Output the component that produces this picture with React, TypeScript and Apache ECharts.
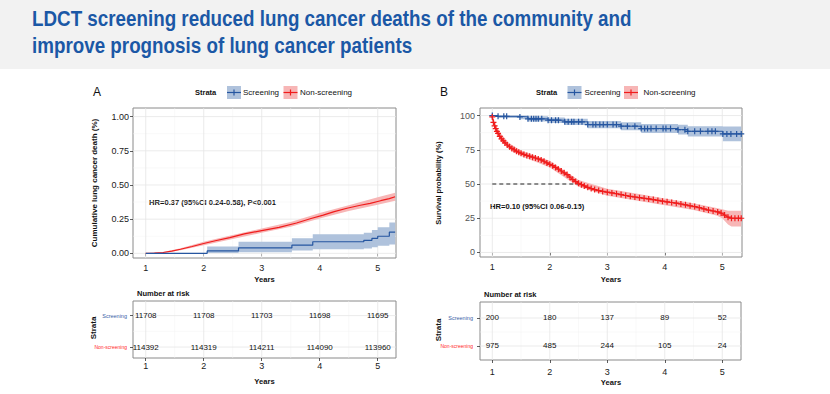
import React, { useEffect, useRef } from "react";
import * as echarts from "echarts";

// ---------- data ----------
const years = [1, 2, 3, 4, 5];
const strata = ["Screening", "Non-screening"];

// Panel A: cumulative lung cancer death (fraction)
const A_screening: [number, number][] = [
  [1.0, 0], [2.06, 0.018], [2.6, 0.04], [3.52, 0.06], [3.88, 0.085],
  [4.76, 0.095], [4.9, 0.11], [5.0, 0.125], [5.2, 0.155], [5.3, 0.155],
];
const A_screeningCI: [number, number, number][] = [
  [1.0, 0, 0], [2.06, 0.002, 0.05], [2.6, 0.008, 0.085], [3.52, 0.02, 0.11],
  [3.88, 0.03, 0.14], [4.76, 0.035, 0.15], [4.9, 0.045, 0.17], [5.0, 0.055, 0.19],
  [5.2, 0.065, 0.225], [5.3, 0.065, 0.225],
];
const A_nonScreening: [number, number][] = [
  [1.0, 0], [1.15, 0.001], [1.3, 0.006], [1.45, 0.016], [1.6, 0.03], [1.8, 0.05],
  [2.0, 0.072], [2.2, 0.092], [2.45, 0.115], [2.7, 0.142], [3.0, 0.166], [3.3, 0.19],
  [3.6, 0.222], [3.85, 0.255], [4.06, 0.28], [4.25, 0.305], [4.47, 0.33], [4.7, 0.352],
  [4.87, 0.366], [5.05, 0.385], [5.2, 0.4], [5.3, 0.414],
];
const A_nonScreeningCI: [number, number, number][] = [
  [1.0, 0, 0], [1.3, 0.002, 0.01], [1.6, 0.022, 0.038], [2.0, 0.06, 0.084],
  [2.5, 0.105, 0.135], [3.0, 0.15, 0.182], [3.5, 0.195, 0.23], [4.0, 0.255, 0.295],
  [4.5, 0.31, 0.352], [5.0, 0.355, 0.41], [5.3, 0.385, 0.443],
];
const A_yTicks = [0, 0.25, 0.5, 0.75, 1];
const A_yMinor = [0.125, 0.375, 0.625, 0.875];
const A_riskScreening = [11708, 11708, 11703, 11698, 11695];
const A_riskNonScreening = [114392, 114319, 114211, 114090, 113960];
const A_hr = "HR=0.37 (95%CI 0.24-0.58), P<0.001";

// Panel B: survival probability (%)
const B_screening: [number, number][] = [
  [1.0, 100], [1.1, 99.4], [1.2, 99.4], [1.25, 99.4], [1.48, 99.0], [1.62, 97.6],
  [1.68, 97.6], [1.72, 97.6], [1.76, 97.6], [1.8, 97.6], [1.86, 97.6], [1.97, 96.6],
  [2.03, 96.6], [2.1, 96.6], [2.15, 96.6], [2.26, 95.4], [2.32, 95.4], [2.38, 95.4],
  [2.42, 95.4], [2.5, 95.4], [2.56, 95.4], [2.66, 93.4], [2.75, 93.4], [2.8, 93.4],
  [2.87, 93.4], [2.93, 93.4], [3.0, 93.4], [3.1, 93.4], [3.16, 93.4], [3.24, 92.2],
  [3.35, 92.2], [3.48, 92.2], [3.59, 90.5], [3.65, 90.5], [3.7, 90.5], [3.76, 90.5],
  [3.85, 90.5], [3.97, 90.5], [4.02, 90.5], [4.1, 90.5], [4.23, 89.7], [4.35, 89.7],
  [4.4, 88.5], [4.52, 88.5], [4.62, 88.5], [4.75, 88.5], [4.82, 88.5], [4.88, 88.5],
  [5.01, 86.6], [5.08, 86.6], [5.15, 86.6], [5.25, 86.6], [5.33, 86.6],
];
const B_screeningCI: [number, number, number][] = [
  [1.0, 100, 100], [1.1, 98.2, 100], [1.48, 97.3, 100], [1.62, 95.7, 99.4],
  [1.97, 94.5, 98.6], [2.26, 93.1, 97.6], [2.66, 90.8, 96.0], [3.24, 89.3, 95.1],
  [3.59, 87.2, 93.8], [4.23, 86.2, 93.2], [4.4, 84.7, 92.2], [5.01, 81.2, 92.0],
  [5.33, 81.2, 92.0],
];
const B_nonScreening: [number, number][] = [
  [1.0, 99], [1.02, 95], [1.04, 92.5], [1.06, 90.5], [1.08, 88.5], [1.1, 87],
  [1.13, 84.8], [1.16, 83], [1.19, 81.5], [1.22, 80], [1.26, 78.5], [1.3, 77.2],
  [1.34, 76], [1.38, 75], [1.42, 74], [1.46, 73.2], [1.5, 72.5], [1.55, 71.6],
  [1.6, 70.9], [1.65, 70.3], [1.7, 69.6], [1.75, 69], [1.8, 68.3], [1.85, 67.6],
  [1.9, 66.6], [1.95, 65.4], [2.0, 64.4], [2.05, 63.4], [2.1, 62.1], [2.15, 60.8],
  [2.2, 59.5], [2.25, 58.2], [2.3, 56.9], [2.35, 55.0], [2.4, 53.2], [2.45, 51.8],
  [2.5, 50.5], [2.55, 49.5], [2.6, 48.6], [2.66, 47.6], [2.72, 46.7], [2.78, 45.9],
  [2.85, 45.2], [2.92, 44.6], [3.0, 44.0], [3.08, 43.5], [3.16, 42.9], [3.24, 42.3],
  [3.32, 41.6], [3.4, 41.0], [3.48, 40.5], [3.56, 40.0], [3.64, 39.6], [3.72, 39.1],
  [3.8, 38.6], [3.88, 38.0], [3.96, 37.5], [4.04, 37.0], [4.12, 36.5], [4.2, 36.0],
  [4.28, 35.4], [4.36, 34.8], [4.44, 34.1], [4.52, 33.5], [4.6, 32.7], [4.68, 31.8],
  [4.76, 31.0], [4.84, 30.3], [4.92, 29.6], [4.98, 28.8], [5.04, 27.3], [5.1, 25.8],
  [5.16, 25.0], [5.22, 25.0], [5.28, 25.0], [5.33, 25.0],
];
const B_nonScreeningCI: [number, number, number][] = [
  [1.0, 98, 100], [1.1, 85, 89], [1.3, 75, 79.5], [1.5, 70.5, 74.5], [2.0, 62, 67],
  [2.5, 48, 53], [3.0, 41.5, 46.5], [3.5, 38, 43], [4.0, 34.5, 39.5], [4.5, 31, 36],
  [4.9, 27, 32.5], [5.0, 25, 31.5], [5.1, 20.5, 30.5], [5.16, 19, 30.5], [5.33, 19, 30.5],
];
const B_medianLine: [number, number][] = [[1, 50], [2.52, 50]];
const B_yTicks = [0, 25, 50, 75, 100];
const B_yMinor = [12.5, 37.5, 62.5, 87.5];
const B_riskScreening = [200, 180, 137, 89, 52];
const B_riskNonScreening = [975, 485, 244, 105, 24];
const B_hr = "HR=0.10 (95%CI 0.06-0.15)";

const xMinor = [1.5, 2.5, 3.5, 4.5];
const riskRows = [1, 2]; // 1 = Non-screening, 2 = Screening
const riskRowMinor = [1.5];

// ---------- styles ----------
const FONT = "'Liberation Sans', Arial, Helvetica, sans-serif";
const BLUE = "#2656a0";
const RED = "#f01c1c";
const BLUE_BAND = "#afc2dc";
const RED_BAND = "#f7b6b6";
const GRID_MAJOR = "#e6e6e6";
const GRID_MINOR = "#f2f2f2";
const CROSS = "path://M4,0H6V4H10V6H6V10H4V6H0V4H4Z";

function gridLines(idx: number, xMaj: number[], xMin: number[], yMaj: number[], yMin: number[]) {
  const data: number[][] = [
    ...xMin.map((v) => [v, 1]),
    ...yMin.map((v) => [v, 3]),
    ...xMaj.map((v) => [v, 0]),
    ...yMaj.map((v) => [v, 2]),
  ];
  return {
    type: "custom",
    xAxisIndex: idx,
    yAxisIndex: idx,
    silent: true,
    z: 1,
    data,
    renderItem: (params: any, api: any) => {
      const v = api.value(0);
      const k = api.value(1);
      const cs = params.coordSys;
      const major = k === 0 || k === 2;
      const style = { stroke: major ? GRID_MAJOR : GRID_MINOR, lineWidth: major ? 0.8 : 0.5 };
      if (k < 2) {
        const x = api.coord([v, 0])[0];
        return { type: "line", shape: { x1: x, y1: cs.y, x2: x, y2: cs.y + cs.height }, style };
      }
      const y = api.coord([0, v])[1];
      return { type: "line", shape: { x1: cs.x, y1: y, x2: cs.x + cs.width, y2: y }, style };
    },
  };
}

function band(idx: number, rows: [number, number, number][], step: boolean, color: string) {
  return {
    type: "custom",
    xAxisIndex: idx,
    yAxisIndex: idx,
    silent: true,
    z: 2,
    clip: true,
    data: rows,
    renderItem: (params: any, api: any) => {
      if (params.dataIndex !== 0) return null;
      const up: number[][] = [];
      const lo: number[][] = [];
      rows.forEach((r, i) => {
        if (step && i > 0) {
          up.push(api.coord([r[0], rows[i - 1][2]]));
          lo.push(api.coord([r[0], rows[i - 1][1]]));
        }
        up.push(api.coord([r[0], r[2]]));
        lo.push(api.coord([r[0], r[1]]));
      });
      return { type: "polygon", shape: { points: up.concat(lo.reverse()) }, style: { fill: color } };
    },
  };
}

function curve(idx: number, data: [number, number][], color: string, step: boolean, marks: boolean, width = 1.2) {
  return {
    type: "line",
    xAxisIndex: idx,
    yAxisIndex: idx,
    silent: true,
    z: 3,
    data,
    step: step ? "end" : false,
    showSymbol: marks,
    showAllSymbol: true,
    symbol: CROSS,
    symbolSize: 6,
    itemStyle: { color },
    lineStyle: { color, width },
    emphasis: { disabled: true },
  };
}

function riskNumbers(idx: number, scr: number[], non: number[]) {
  const data = years.flatMap((y, i) => [[y, 2, scr[i]], [y, 1, non[i]]]);
  return {
    type: "custom",
    xAxisIndex: idx,
    yAxisIndex: idx,
    silent: true,
    z: 4,
    data,
    renderItem: (params: any, api: any) => {
      const p = api.coord([api.value(0), api.value(1)]);
      return {
        type: "text",
        x: p[0],
        y: p[1],
        style: {
          text: String(api.value(2)),
          fontSize: 8,
          fontFamily: FONT,
          fill: "#111",
          align: "center",
          verticalAlign: "middle",
          textAlign: "center",
          textVerticalAlign: "middle",
        },
      };
    },
  };
}

function xAxis(idx: number, min: number, max: number, margin: number) {
  return {
    type: "value",
    gridIndex: idx,
    min,
    max,
    axisLine: { show: false },
    splitLine: { show: false },
    axisTick: { show: true, length: 3, lineStyle: { color: "#333", width: 0.8 }, customValues: years },
    axisLabel: { customValues: years, margin, fontSize: 9, color: "#1a1a1a", fontFamily: FONT },
  };
}

function yAxis(idx: number, min: number, max: number, ticks: number[], fmt: (v: number) => string, color: string, margin = 4) {
  return {
    type: "value",
    gridIndex: idx,
    min,
    max,
    axisLine: { show: false },
    splitLine: { show: false },
    axisTick: { show: true, length: 3, lineStyle: { color: "#333", width: 0.8 }, customValues: ticks },
    axisLabel: { customValues: ticks, margin, fontSize: 9, color, fontFamily: FONT, formatter: fmt },
  };
}

function riskYAxis(idx: number, min: number, max: number, margin: number) {
  return {
    type: "value",
    gridIndex: idx,
    min,
    max,
    axisLine: { show: false },
    splitLine: { show: false },
    axisTick: { show: true, length: 3, lineStyle: { color: "#333", width: 0.8 }, customValues: riskRows },
    axisLabel: {
      customValues: riskRows,
      margin,
      fontFamily: FONT,
      formatter: (v: number) => (v === 2 ? "{s|" + strata[0] + "}" : "{n|" + strata[1] + "}"),
      rich: {
        s: { fontSize: 5.5, color: "#3a5ea6", fontFamily: FONT },
        n: { fontSize: 5, color: "#ff2a2a", fontFamily: FONT },
      },
    },
  };
}

function txt(x: number, y: number, text: string, size: number, opts: any = {}) {
  return {
    type: "text",
    x,
    y,
    rotation: opts.rotation || 0,
    scaleX: opts.scaleX || 1,
    silent: true,
    style: {
      text,
      fontSize: size,
      fontFamily: FONT,
      fontWeight: opts.bold ? "bold" : "normal",
      fill: opts.color || "#111",
      align: opts.align || "left",
      verticalAlign: "middle",
      textAlign: opts.align || "left",
      textVerticalAlign: "middle",
    },
  };
}

function legendKey(x: number, y: number, fill: string, color: string) {
  const cx = x + 7;
  const cy = y + 6.5;
  return [
    { type: "rect", silent: true, shape: { x, y, width: 14, height: 13 }, style: { fill } },
    { type: "line", silent: true, shape: { x1: x, y1: cy, x2: x + 14, y2: cy }, style: { stroke: color, lineWidth: 1.2 } },
    { type: "line", silent: true, shape: { x1: cx, y1: cy - 3, x2: cx, y2: cy + 3 }, style: { stroke: color, lineWidth: 1.2 } },
  ];
}

export default function App() {
  const ref = useRef<HTMLDivElement>(null);
  useEffect(() => {
    document.body.style.margin = "0";
    if (!ref.current) return;
    const chart = echarts.init(ref.current, undefined, { renderer: "svg" });
    const gridBase = { show: true, borderColor: "#8a8a8a", borderWidth: 1, backgroundColor: "#fff", containLabel: false };
    const option: any = {
      animation: false,
      backgroundColor: "#fff",
      grid: [
        { ...gridBase, left: 133, top: 108, width: 263, height: 150 },
        { ...gridBase, left: 133, top: 301, width: 263, height: 57 },
        { ...gridBase, left: 480, top: 108, width: 262, height: 149 },
        { ...gridBase, left: 480, top: 302, width: 261, height: 58 },
      ],
      xAxis: [
        xAxis(0, 0.781, 5.315, 5),
        xAxis(1, 0.781, 5.315, 3),
        xAxis(2, 0.786, 5.343, 5),
        xAxis(3, 0.786, 5.326, 7),
      ],
      yAxis: [
        yAxis(0, -0.034, 1.063, A_yTicks, (v: number) => v.toFixed(2), "#1a1a1a", 4),
        riskYAxis(1, 0.652, 2.465, 6),
        yAxis(2, -3.3, 105.5, B_yTicks, (v: number) => String(v), "#555", 5),
        riskYAxis(3, 0.5, 2.571, 7),
      ],
      series: [
        gridLines(0, years, xMinor, A_yTicks, A_yMinor),
        band(0, A_nonScreeningCI, false, RED_BAND),
        band(0, A_screeningCI, true, BLUE_BAND),
        curve(0, A_nonScreening, RED, false, false),
        curve(0, A_screening, BLUE, true, false),
        gridLines(1, years, xMinor, riskRows, riskRowMinor),
        riskNumbers(1, A_riskScreening, A_riskNonScreening),
        gridLines(2, years, xMinor, B_yTicks, B_yMinor),
        band(2, B_screeningCI, true, BLUE_BAND),
        band(2, B_nonScreeningCI, false, RED_BAND),
        {
          type: "line",
          xAxisIndex: 2,
          yAxisIndex: 2,
          silent: true,
          z: 3,
          data: B_medianLine,
          showSymbol: false,
          lineStyle: { color: "#222", width: 1, type: [4, 3] },
        },
        curve(2, B_screening, BLUE, true, true, 1),
        curve(2, B_nonScreening, RED, false, true, 1.2),
        gridLines(3, years, xMinor, riskRows, riskRowMinor),
        riskNumbers(3, B_riskScreening, B_riskNonScreening),
      ],
      graphic: [
        { type: "rect", silent: true, z: -10, shape: { x: 0, y: 0, width: 830, height: 69 }, style: { fill: "#f2f2f2" } },
        txt(32, 18, "LDCT screening reduced lung cancer deaths of the community and", 22, { bold: true, color: "#1b58a6", scaleX: 0.855 }),
        txt(32, 45, "improve prognosis of lung cancer patients", 22, { bold: true, color: "#1b58a6", scaleX: 0.855 }),
        // Panel A header
        txt(93, 91.5, "A", 12),
        txt(195, 92.5, "Strata", 7.5, { bold: true }),
        ...legendKey(227, 86, BLUE_BAND, BLUE),
        txt(243, 92.5, strata[0], 8),
        ...legendKey(283.5, 86, RED_BAND, RED),
        txt(300, 92.5, strata[1], 8),
        txt(149, 202.5, A_hr, 7.6, { bold: true }),
        txt(94, 183, "Cumulative lung cancer death (%)", 8, { bold: true, rotation: Math.PI / 2, align: "center" }),
        txt(264.5, 279, "Years", 7.6, { bold: true, align: "center" }),
        txt(137, 293.5, "Number at risk", 7.5, { bold: true }),
        txt(93, 328, "Strata", 8, { bold: true, rotation: Math.PI / 2, align: "center" }),
        txt(264.5, 381.5, "Years", 7.6, { bold: true, align: "center" }),
        // Panel B header
        txt(440, 91.5, "B", 12),
        txt(536, 92.5, "Strata", 7.5, { bold: true }),
        ...legendKey(567.5, 86, BLUE_BAND, BLUE),
        txt(584.5, 92.5, strata[0], 8),
        ...legendKey(624, 86, RED_BAND, RED),
        txt(643.5, 92.5, strata[1], 8),
        txt(490, 206.5, B_hr, 7.6, { bold: true }),
        txt(438.5, 183, "Survival probability (%)", 7.5, { bold: true, rotation: Math.PI / 2, align: "center" }),
        txt(611, 279, "Years", 7.6, { bold: true, align: "center" }),
        txt(484, 294, "Number at risk", 7.5, { bold: true }),
        txt(438.5, 330, "Strata", 8, { bold: true, rotation: Math.PI / 2, align: "center" }),
        txt(611, 382, "Years", 7.6, { bold: true, align: "center" }),
      ],
    };
    chart.setOption(option);
    return () => chart.dispose();
  }, []);
  return <div ref={ref} style={{ position: "fixed", left: 0, top: 0, width: 830, height: 394 }} />;
}
